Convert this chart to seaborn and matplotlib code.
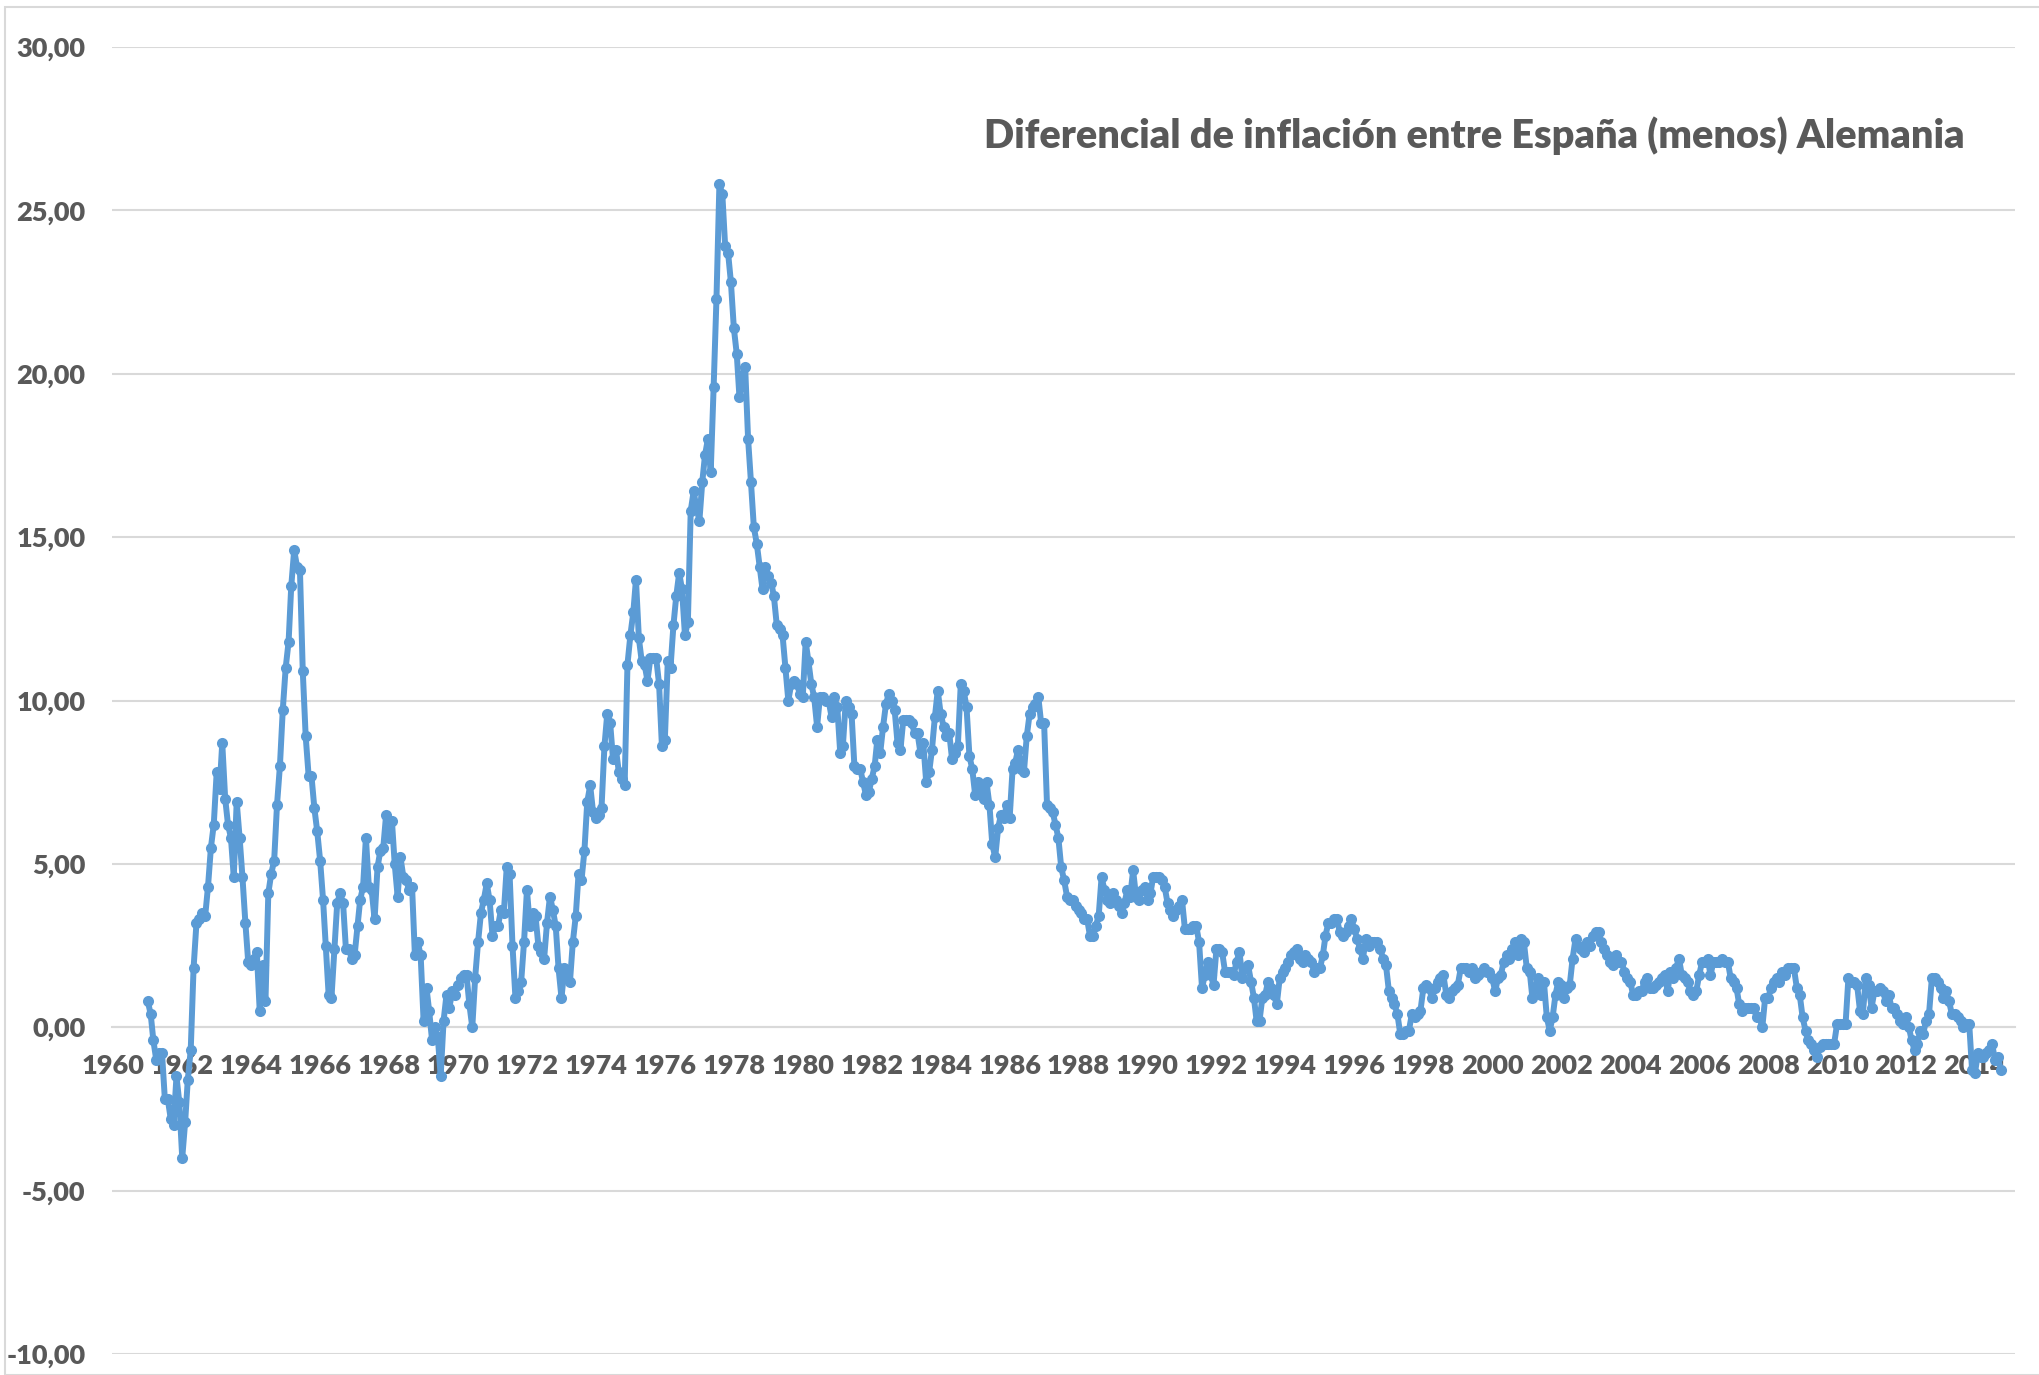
import matplotlib
matplotlib.use("Agg")
import matplotlib.pyplot as plt
import matplotlib.dates as mdates
from matplotlib.ticker import FuncFormatter, MultipleLocator
from matplotlib.patches import Rectangle
import pandas as pd
import seaborn as sns

# diferencial mensual de inflacion Espana - Alemania (puntos), desde enero 1961
diferencial = [
    0.8, 0.4, -0.4, -1.0, -0.8, -0.8, -2.2, -2.2, -2.8, -3.0, -1.5, -2.3,   # 1961
    -4.0, -2.9, -1.6, -0.7, 1.8, 3.2, 3.3, 3.5, 3.4, 4.3, 5.5, 6.2,         # 1962
    7.8, 7.3, 8.7, 7.0, 6.2, 5.8, 4.6, 6.9, 5.8, 4.6, 3.2, 2.0,             # 1963
    1.9, 2.1, 2.3, 0.5, 1.9, 0.8, 4.1, 4.7, 5.1, 6.8, 8.0, 9.7,             # 1964
    11.0, 11.8, 13.5, 14.6, 14.1, 14.0, 10.9, 8.9, 7.7, 7.7, 6.7, 6.0,      # 1965
    5.1, 3.9, 2.5, 1.0, 0.9, 2.4, 3.8, 4.1, 3.8, 2.4, 2.4, 2.1,             # 1966
    2.2, 3.1, 3.9, 4.3, 5.8, 4.3, 4.2, 3.3, 4.9, 5.4, 5.5, 6.5,             # 1967
    5.8, 6.3, 5.0, 4.0, 5.2, 4.6, 4.5, 4.2, 4.3, 2.2, 2.6, 2.2,             # 1968
    0.2, 1.2, 0.5, -0.4, 0.0, -0.3, -1.5, 0.2, 1.0, 0.6, 1.1, 1.0,          # 1969
    1.3, 1.5, 1.6, 1.6, 0.7, 0.0, 1.5, 2.6, 3.5, 3.9, 4.4, 3.9,             # 1970
    2.8, 3.1, 3.1, 3.6, 3.5, 4.9, 4.7, 2.5, 0.9, 1.1, 1.4, 2.6,             # 1971
    4.2, 3.1, 3.5, 3.4, 2.5, 2.3, 2.1, 3.2, 4.0, 3.6, 3.1, 1.8,             # 1972
    0.9, 1.8, 1.5, 1.4, 2.6, 3.4, 4.7, 4.5, 5.4, 6.9, 7.4, 6.6,             # 1973
    6.4, 6.5, 6.7, 8.6, 9.6, 9.3, 8.2, 8.5, 7.8, 7.6, 7.4, 11.1,            # 1974
    12.0, 12.7, 13.7, 11.9, 11.2, 11.1, 10.6, 11.3, 11.3, 11.3, 10.5, 8.6,  # 1975
    8.8, 11.2, 11.0, 12.3, 13.2, 13.9, 13.4, 12.0, 12.4, 15.8, 16.4, 15.9,  # 1976
    15.5, 16.7, 17.5, 18.0, 17.0, 19.6, 22.3, 25.8, 25.5, 23.9, 23.7, 22.8, # 1977
    21.4, 20.6, 19.3, 19.9, 20.2, 18.0, 16.7, 15.3, 14.8, 14.1, 13.4, 14.1, # 1978
    13.8, 13.6, 13.2, 12.3, 12.2, 12.0, 11.0, 10.0, 10.5, 10.6, 10.5, 10.2, # 1979
    10.1, 11.8, 11.2, 10.5, 10.1, 9.2, 10.1, 10.1, 10.0, 10.0, 9.5, 10.1,   # 1980
    9.8, 8.4, 8.6, 10.0, 9.8, 9.6, 8.0, 7.9, 7.9, 7.5, 7.1, 7.2,            # 1981
    7.6, 8.0, 8.8, 8.4, 9.2, 9.9, 10.2, 10.0, 9.7, 8.7, 8.5, 9.4,           # 1982
    9.4, 9.4, 9.3, 9.0, 9.0, 8.4, 8.7, 7.5, 7.8, 8.5, 9.5, 10.3,            # 1983
    9.6, 9.2, 8.9, 9.0, 8.2, 8.4, 8.6, 10.5, 10.3, 9.8, 8.3, 7.9,           # 1984
    7.1, 7.5, 7.3, 7.0, 7.5, 6.8, 5.6, 5.2, 6.1, 6.5, 6.4, 6.8,             # 1985
    6.4, 7.9, 8.1, 8.5, 7.9, 7.8, 8.9, 9.6, 9.8, 9.9, 10.1, 9.3,            # 1986
    9.3, 6.8, 6.7, 6.6, 6.2, 5.8, 4.9, 4.5, 4.0, 3.9, 3.9, 3.7,             # 1987
    3.6, 3.5, 3.3, 3.3, 2.8, 2.8, 3.1, 3.4, 4.6, 4.2, 3.9, 3.8,             # 1988
    4.1, 3.9, 3.7, 3.5, 3.8, 4.2, 4.0, 4.8, 4.0, 3.9, 4.2, 4.3,             # 1989
    3.9, 4.1, 4.6, 4.6, 4.6, 4.5, 4.3, 3.8, 3.6, 3.4, 3.6, 3.7,             # 1990
    3.9, 3.0, 3.0, 3.0, 3.1, 3.1, 2.6, 1.2, 1.6, 2.0, 1.6, 1.3,             # 1991
    2.4, 2.4, 2.3, 1.7, 1.7, 1.7, 1.6, 2.0, 2.3, 1.5, 1.8, 1.9,             # 1992
    1.4, 0.9, 0.2, 0.2, 0.9, 1.0, 1.4, 1.2, 1.0, 0.7, 1.5, 1.7,             # 1993
    1.8, 2.0, 2.2, 2.3, 2.4, 2.1, 2.0, 2.2, 2.1, 2.0, 1.7, 1.8,             # 1994
    1.8, 2.2, 2.8, 3.2, 3.2, 3.3, 3.3, 2.9, 2.8, 2.9, 3.1, 3.3,             # 1995
    3.0, 2.7, 2.4, 2.1, 2.7, 2.5, 2.6, 2.6, 2.6, 2.4, 2.1, 1.9,             # 1996
    1.1, 0.9, 0.7, 0.4, -0.2, -0.2, -0.1, -0.1, 0.4, 0.3, 0.4, 0.5,         # 1997
    1.2, 1.3, 1.2, 0.9, 1.2, 1.4, 1.5, 1.6, 1.0, 0.9, 1.1, 1.2,             # 1998
    1.3, 1.8, 1.8, 1.8, 1.7, 1.8, 1.5, 1.6, 1.7, 1.8, 1.7, 1.7,             # 1999
    1.5, 1.1, 1.5, 1.6, 2.0, 2.2, 2.1, 2.4, 2.6, 2.2, 2.7, 2.6,             # 2000
    1.8, 1.7, 0.9, 1.2, 1.5, 1.0, 1.4, 0.3, -0.1, 0.3, 1.0, 1.4,            # 2001
    1.3, 0.9, 1.2, 1.3, 2.1, 2.7, 2.5, 2.4, 2.3, 2.6, 2.5, 2.8,             # 2002
    2.9, 2.9, 2.6, 2.4, 2.2, 2.0, 1.9, 2.2, 2.0, 2.0, 1.7, 1.5,             # 2003
    1.4, 1.0, 1.0, 1.1, 1.1, 1.4, 1.5, 1.2, 1.2, 1.3, 1.4, 1.5,             # 2004
    1.6, 1.1, 1.7, 1.5, 1.8, 2.1, 1.6, 1.5, 1.4, 1.1, 1.0, 1.1,             # 2005
    1.6, 2.0, 2.0, 2.1, 1.6, 2.0, 2.0, 2.0, 2.1, 2.0, 2.0, 1.5,             # 2006
    1.4, 1.2, 0.7, 0.5, 0.6, 0.6, 0.6, 0.6, 0.3, 0.3, 0.0, 0.9,             # 2007
    0.9, 1.2, 1.4, 1.5, 1.4, 1.7, 1.6, 1.8, 1.8, 1.8, 1.2, 1.0,             # 2008
    0.3, -0.1, -0.4, -0.5, -0.7, -0.9, -0.6, -0.5, -0.5, -0.5, -0.5, -0.5,  # 2009
    0.1, 0.1, 0.1, 0.1, 1.5, 1.4, 1.4, 1.3, 0.5, 0.4, 1.5, 1.3,             # 2010
    0.6, 1.1, 1.1, 1.2, 1.1, 0.8, 1.0, 0.6, 0.6, 0.4, 0.2, 0.1,             # 2011
    0.3, 0.0, -0.4, -0.7, -0.5, -0.1, -0.2, 0.2, 0.4, 1.5, 1.5, 1.4,        # 2012
    1.2, 0.9, 1.1, 0.8, 0.4, 0.4, 0.3, 0.2, 0.0, 0.1, 0.1, -1.3,            # 2013
    -1.4, -0.8, -0.9, -0.9, -0.8, -0.7, -0.5, -1.0, -0.9, -1.3,             # 2014
]
fechas = pd.date_range("1961-01-01", periods=len(diferencial), freq="MS")
titulo = "Diferencial de inflación entre España (menos) Alemania"

df = pd.DataFrame({"fecha": fechas, "diferencial": diferencial})

sns.set_theme(style="white")
plt.rcParams["font.family"] = ["Lato", "DejaVu Sans"]

gris = "#595959"
rejilla = "#D9D9D9"
azul = "#5B9BD5"

fig = plt.figure(figsize=(20.4, 13.75), dpi=100)
ax = fig.add_axes([112 / 2040, 1 - 1354 / 1375, (2015 - 112) / 2040, (1354 - 47) / 1375])

sns.lineplot(data=df, x="fecha", y="diferencial", ax=ax, color=azul, linewidth=4.3,
             marker="o", markersize=8, markeredgewidth=0, zorder=3)

ax.set_ylim(-10, 30)
ax.set_xlim(pd.Timestamp("1959-12-19"), pd.Timestamp("2015-03-01"))
ax.yaxis.set_major_locator(MultipleLocator(5))
ax.yaxis.set_major_formatter(FuncFormatter(lambda v, p: f"{v:.2f}".replace(".", ",")))
ax.xaxis.set_major_locator(mdates.YearLocator(2))
ax.xaxis.set_major_formatter(mdates.DateFormatter("%Y"))

ax.grid(axis="y", color=rejilla, linewidth=1.5)
ax.grid(axis="x", visible=False)
for s in ["top", "right", "left"]:
    ax.spines[s].set_visible(False)
ax.spines["bottom"].set_position(("data", 0))
ax.spines["bottom"].set_color(rejilla)
ax.spines["bottom"].set_linewidth(1.5)

ax.tick_params(axis="x", length=0, pad=19, labelsize=19.5, labelcolor=gris)
ax.tick_params(axis="y", length=0, pad=19, labelsize=19.5, labelcolor=gris)
for lab in ax.get_xticklabels() + ax.get_yticklabels():
    lab.set_fontweight("heavy")
ax.set_xlabel("")
ax.set_ylabel("")

fig.text(1965 / 2040, 1 - 148 / 1375, titulo, ha="right", va="baseline",
         fontsize=28.5, fontweight="heavy", color=gris)

# borde del area del grafico
fig.patches.append(Rectangle((5 / 2040, 0), 1, 1 - 7 / 1375, transform=fig.transFigure,
                             fill=False, edgecolor=rejilla, linewidth=1.5))

fig.savefig("out.png", dpi=100)
